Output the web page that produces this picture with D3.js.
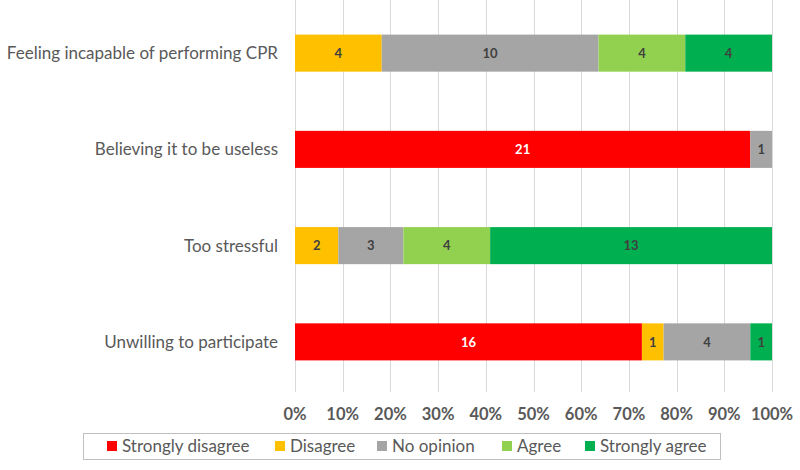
<!DOCTYPE html>
<meta charset="utf-8">
<title>CPR reasons</title>
<style>
  body { margin: 0; background: #fff; }
  svg { display: block; font-family: Lato, "Noto Sans", sans-serif; }
  .grid line { stroke: #d9d9d9; stroke-width: 1; }
  .cat { fill: #595959; font-size: 17px; }
  .tick-label { fill: #595959; font-size: 16.5px; font-weight: bold; }
  .val { font-size: 13px; font-weight: bold; }
  .legend text { fill: #595959; font-size: 17px; }
</style>
<body>
<script src="https://cdn.jsdelivr.net/npm/d3@7"></script>
<script>
  const categories = [
    "Feeling incapable of performing CPR",
    "Believing it to be useless",
    "Too stressful",
    "Unwilling to participate"
  ];
  const seriesNames = ["Strongly disagree", "Disagree", "No opinion", "Agree", "Strongly agree"];
  const seriesColors = ["#ff0000", "#ffc000", "#a5a5a5", "#92d050", "#00b050"];
  const stronglyDisagree = [0, 21, 0, 16];
  const disagree = [4, 0, 2, 1];
  const noOpinion = [10, 1, 3, 4];
  const agree = [4, 0, 4, 0];
  const stronglyAgree = [4, 0, 13, 1];
  const tickValues = [0, 0.1, 0.2, 0.3, 0.4, 0.5, 0.6, 0.7, 0.8, 0.9, 1];

  const width = 800, height = 470;
  const plotLeft = 295, plotRight = 772, plotTop = 5, plotBottom = 390;

  const svg = d3.select("body").append("svg")
    .attr("width", width)
    .attr("height", height);

  const rows = categories.map((c, i) => {
    const vals = [stronglyDisagree[i], disagree[i], noOpinion[i], agree[i], stronglyAgree[i]];
    const o = { cat: c };
    seriesNames.forEach((s, j) => o[s] = vals[j]);
    return o;
  });

  const stacked = d3.stack().keys(seriesNames).offset(d3.stackOffsetExpand)(rows);

  const x = d3.scaleLinear().domain([0, 1]).range([plotLeft, plotRight]);
  const y = d3.scaleBand().domain(categories).range([plotTop, plotBottom])
    .paddingInner(0.615).paddingOuter(0.3075);

  // gridlines
  svg.append("g").attr("class", "grid")
    .selectAll("line").data(tickValues)
    .enter().append("line")
    .attr("x1", d => Math.round(x(d)) + 0.5)
    .attr("x2", d => Math.round(x(d)) + 0.5)
    .attr("y1", 0)
    .attr("y2", 392);

  // bars
  const layers = svg.append("g").selectAll("g").data(stacked)
    .enter().append("g")
    .attr("fill", (d, i) => seriesColors[i]);

  layers.selectAll("rect").data(d => d.map(p => ({ p: p, key: d.key })))
    .enter().append("rect")
    .attr("x", d => x(d.p[0]))
    .attr("y", d => y(d.p.data.cat))
    .attr("width", d => x(d.p[1]) - x(d.p[0]))
    .attr("height", y.bandwidth());

  // value labels
  layers.selectAll("text").data(d => d.map(p => ({ p: p, key: d.key })).filter(d => d.p.data[d.key] > 0))
    .enter().append("text")
    .attr("class", "val")
    .attr("x", d => (x(d.p[0]) + x(d.p[1])) / 2)
    .attr("y", d => y(d.p.data.cat) + y.bandwidth() / 2)
    .attr("dy", "0.36em")
    .attr("text-anchor", "middle")
    .attr("fill", d => d.key === "Strongly disagree" ? "#ffffff" : "#404040")
    .text(d => d.p.data[d.key]);

  // category labels
  svg.append("g").selectAll("text").data(categories)
    .enter().append("text")
    .attr("class", "cat")
    .attr("x", plotLeft - 17)
    .attr("y", d => y(d) + y.bandwidth() / 2)
    .attr("dy", "0.35em")
    .attr("text-anchor", "end")
    .text(d => d);

  // x tick labels
  svg.append("g").selectAll("text").data(tickValues)
    .enter().append("text")
    .attr("class", "tick-label")
    .attr("x", d => x(d))
    .attr("y", 414)
    .attr("dy", "0.35em")
    .attr("text-anchor", "middle")
    .text(d3.format(".0%"));

  // legend
  const legend = svg.append("g").attr("class", "legend");
  legend.append("rect")
    .attr("x", 83.5).attr("y", 433.5)
    .attr("width", 637).attr("height", 26)
    .attr("fill", "#fff").attr("stroke", "#bfbfbf");

  const legendX = [107, 275, 377, 502, 585];
  seriesNames.forEach((s, i) => {
    legend.append("rect")
      .attr("x", legendX[i]).attr("y", 441)
      .attr("width", 10).attr("height", 10)
      .attr("fill", seriesColors[i]);
    legend.append("text")
      .attr("x", legendX[i] + 15).attr("y", 446)
      .attr("dy", "0.35em")
      .text(s);
  });
</script>
</body>
